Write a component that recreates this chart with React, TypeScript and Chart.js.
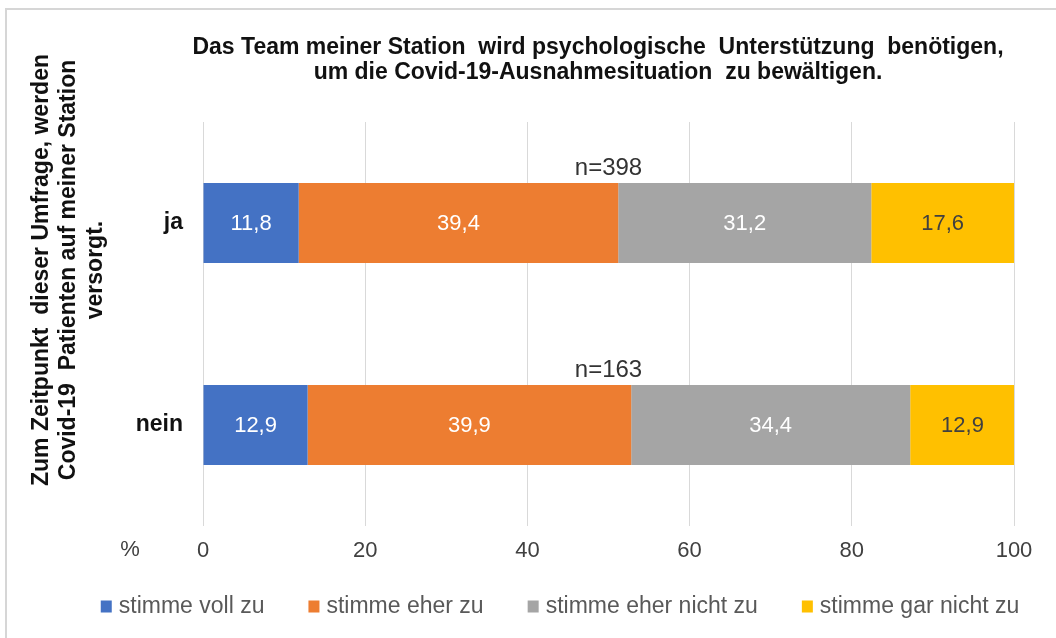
import React, { useEffect, useRef } from "react";
import { Chart, registerables } from "chart.js";

Chart.register(...registerables);

const FONT = "'Liberation Sans', Arial, sans-serif";

const categories = ["ja", "nein"];
const seriesLabels = ["stimme voll zu", "stimme eher zu", "stimme eher nicht zu", "stimme gar nicht zu"];
const vollZu = [11.8, 12.9];
const eherZu = [39.4, 39.9];
const eherNichtZu = [31.2, 34.4];
const garNichtZu = [17.6, 12.9];
const sampleSizes = ["n=398", "n=163"];
const xTickValues = [0, 20, 40, 60, 80, 100];
const titleLines = [
  "Das Team meiner Station  wird psychologische  Unterstützung  benötigen,",
  "um die Covid-19-Ausnahmesituation  zu bewältigen.",
];
const yTitleLines = [
  "Zum Zeitpunkt  dieser Umfrage, werden",
  "Covid-19  Patienten auf meiner Station",
  "versorgt.",
];
const xUnitLabel = "%";

const seriesColors = ["#4472C4", "#ED7D31", "#A5A5A5", "#FFC000"];
const valueLabelColors = ["#ffffff", "#ffffff", "#ffffff", "#404040"];

const overlayPlugin = {
  id: "overlay",
  afterDatasetsDraw(chart: any) {
    const ctx = chart.ctx;
    ctx.save();
    ctx.font = "22px " + FONT;
    ctx.textAlign = "center";
    ctx.textBaseline = "middle";
    chart.data.datasets.forEach((ds: any, di: number) => {
      const meta = chart.getDatasetMeta(di);
      meta.data.forEach((el: any, i: number) => {
        const p = el.getCenterPoint();
        ctx.fillStyle = valueLabelColors[di];
        ctx.fillText(String(ds.data[i]).replace(".", ","), p.x, p.y + 1);
      });
    });
    ctx.restore();
  },
  afterDraw(chart: any) {
    const ctx = chart.ctx;
    const xs = chart.scales.x;
    const ys = chart.scales.y;
    ctx.save();
    // frame
    ctx.strokeStyle = "#d6d6d6";
    ctx.lineWidth = 2;
    ctx.beginPath();
    ctx.moveTo(6, 640);
    ctx.lineTo(6, 9);
    ctx.lineTo(1060, 9);
    ctx.stroke();

    // title
    ctx.fillStyle = "#111111";
    ctx.font = "bold 23px " + FONT;
    ctx.textAlign = "center";
    ctx.textBaseline = "middle";
    titleLines.forEach((l, i) => ctx.fillText(l, 598, 48 + i * 25));

    // y axis title
    ctx.save();
    ctx.translate(0, 270);
    ctx.rotate(-Math.PI / 2);
    yTitleLines.forEach((l, i) => ctx.fillText(l, 0, 42 + i * 27));
    ctx.restore();

    // sample sizes
    ctx.font = "24px " + FONT;
    ctx.fillStyle = "#333333";
    const meta0 = chart.getDatasetMeta(0);
    sampleSizes.forEach((s, i) => {
      const el: any = meta0.data[i];
      const top = ys.getPixelForValue(i) - el.height / 2;
      ctx.fillText(s, xs.getPixelForValue(50), top - 15);
    });

    // unit label
    ctx.font = "22px " + FONT;
    ctx.fillStyle = "#404040";
    ctx.fillText(xUnitLabel, 130, 550);

    // legend
    ctx.font = "23px " + FONT;
    ctx.textAlign = "left";
    const box = 11;
    const gap = 7;
    const itemGap = 44;
    const items = chart.data.datasets.map((ds: any) => ({
      label: ds.label,
      color: ds.backgroundColor,
      w: ctx.measureText(ds.label).width,
    }));
    const total =
      items.reduce((a: number, it: any) => a + box + gap + it.w, 0) + itemGap * (items.length - 1);
    let cx = 560 - total / 2;
    const cy = 606;
    items.forEach((it: any) => {
      ctx.fillStyle = it.color;
      ctx.fillRect(cx, cy - box / 2, box, box + 1);
      ctx.fillStyle = "#595959";
      ctx.fillText(it.label, cx + box + gap, cy + 1);
      cx += box + gap + it.w + itemGap;
    });
    ctx.restore();
  },
};

export default function App() {
  const canvasRef = useRef<HTMLCanvasElement | null>(null);

  useEffect(() => {
    document.body.style.margin = "0";
    document.body.style.background = "#ffffff";
    const canvas = canvasRef.current;
    if (!canvas) return;
    const seriesData = [vollZu, eherZu, eherNichtZu, garNichtZu];
    const chart = new Chart(canvas, {
      type: "bar",
      data: {
        labels: categories,
        datasets: seriesData.map((d, i) => ({
          label: seriesLabels[i],
          data: d,
          backgroundColor: seriesColors[i],
          borderWidth: 0,
          barPercentage: 1,
          categoryPercentage: 0.396,
        })),
      },
      options: {
        indexAxis: "y",
        responsive: false,
        animation: false,
        devicePixelRatio: 1,
        layout: { padding: { top: 122, left: 0, right: 42, bottom: 0 } },
        plugins: {
          legend: { display: false },
          title: { display: false },
          tooltip: { enabled: false },
        },
        scales: {
          x: {
            stacked: true,
            min: 0,
            max: 100,
            afterBuildTicks: (scale: any) => {
              scale.ticks = xTickValues.map((v) => ({ value: v }));
            },
            afterFit: (scale: any) => {
              scale.height = 112;
              scale.paddingLeft = 0;
              scale.paddingRight = 0;
            },
            grid: { color: "#d9d9d9", lineWidth: 1, drawTicks: false },
            border: { display: false },
            ticks: {
              padding: 12,
              color: "#404040",
              font: { size: 22, family: FONT },
              maxRotation: 0,
            },
          },
          y: {
            stacked: true,
            afterFit: (scale: any) => {
              scale.width = 203;
            },
            grid: { display: false, drawTicks: false },
            border: { display: false },
            ticks: {
              padding: 20,
              color: "#111111",
              font: { size: 23, weight: "bold", family: FONT },
            },
          },
        },
      },
      plugins: [overlayPlugin],
    } as any);
    return () => chart.destroy();
  }, []);

  return (
    <div style={{ width: 1056, height: 638, background: "#ffffff" }}>
      <canvas ref={canvasRef} width={1056} height={638} style={{ display: "block" }} />
    </div>
  );
}
